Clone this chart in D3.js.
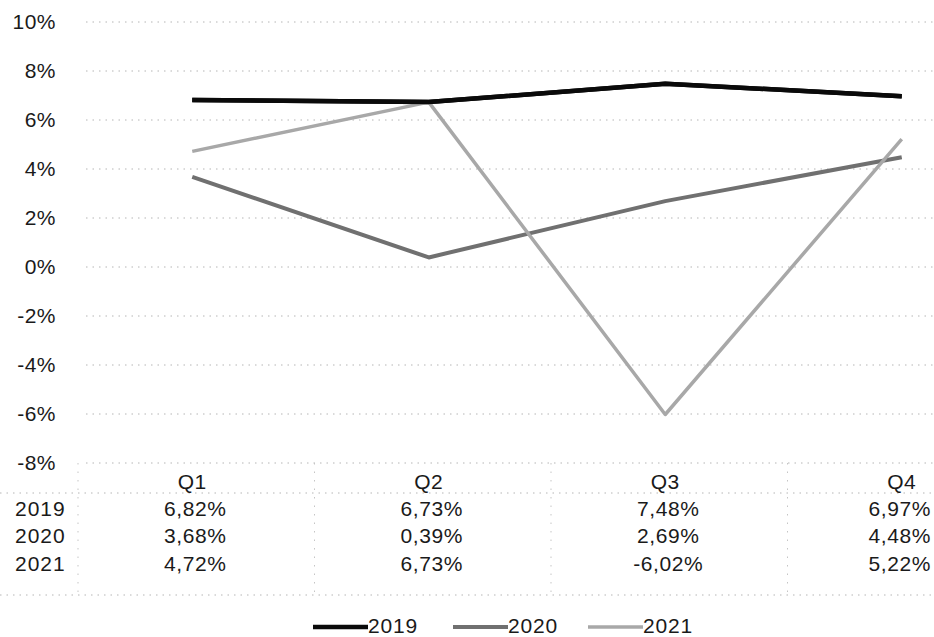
<!DOCTYPE html>
<html>
<head>
<meta charset="utf-8">
<script src="https://cdn.jsdelivr.net/npm/d3@7/dist/d3.min.js"></script>
<style>
  html, body { margin: 0; padding: 0; background: #fff; }
  svg { display: block; }
  text { font-family: "Liberation Sans", Arial, sans-serif; fill: #1a1a1a; }
</style>
</head>
<body>
<svg id="chart" width="934" height="637"></svg>
<script>
const categories = ["Q1", "Q2", "Q3", "Q4"];
const seriesNames = ["2019", "2020", "2021"];
const values2019 = [6.82, 6.73, 7.48, 6.97];
const values2020 = [3.68, 0.39, 2.69, 4.48];
const values2021 = [4.72, 6.73, -6.02, 5.22];
const yTicks = [10, 8, 6, 4, 2, 0, -2, -4, -6, -8];

const seriesValues = [values2019, values2020, values2021];
const seriesColors = ["#0a0a0a", "#707070", "#a8a8a8"];
const seriesWidths = [4.5, 4, 3.5];

const W = 934, H = 637;
const svg = d3.select("#chart");

const x = d3.scaleBand().domain(categories).range([74, 1020]);
const y = d3.scaleLinear().domain([-8, 10]).range([463, 22]);
const xc = c => x(c) + x.bandwidth() / 2;

const loc = d3.formatLocale({decimal: ",", thousands: ".", grouping: [3], currency: ["", ""], minus: "-"});
const fmtVal = v => loc.format(".2f")(v) + "%";
const fmtTick = v => loc.format("d")(v) + "%";

// gridlines
svg.append("g").selectAll("line").data(yTicks).join("line")
  .attr("x1", 86).attr("x2", W)
  .attr("y1", d => y(d)).attr("y2", d => y(d))
  .attr("stroke", "#b5b5b5").attr("stroke-width", 1)
  .attr("stroke-dasharray", "1.5,5");

// y axis labels
const yAxis = d3.axisLeft(y).tickValues(yTicks).tickFormat(fmtTick).tickSize(0).tickPadding(0);
const yg = svg.append("g").attr("transform", "translate(56,0)").call(yAxis);
yg.select(".domain").remove();
yg.selectAll("text").attr("font-size", 21).attr("font-family", "Liberation Sans, Arial, sans-serif")
  .attr("fill", "#1a1a1a").attr("letter-spacing", "0.5px");

// lines
const line = d3.line().x((d, i) => xc(categories[i])).y(d => y(d));
seriesValues.forEach((vals, s) => {
  svg.append("path").datum(vals)
    .attr("d", line)
    .attr("fill", "none")
    .attr("stroke", seriesColors[s])
    .attr("stroke-width", seriesWidths[s])
    .attr("stroke-linejoin", "round");
});
// redraw 2019 on top
svg.append("path").datum(values2019).attr("d", line).attr("fill", "none")
  .attr("stroke", seriesColors[0]).attr("stroke-width", seriesWidths[0]);

// data table
const tbl = svg.append("g");
const rowY = [509, 536, 564];
const hLines = [493, 595];
tbl.selectAll("line.h").data(hLines).join("line").attr("class", "h")
  .attr("x1", 0).attr("x2", W).attr("y1", d => d).attr("y2", d => d)
  .attr("stroke", "#b5b5b5").attr("stroke-dasharray", "1.5,5");
const vEdges = categories.map(c => x(c));
tbl.selectAll("line.v").data(vEdges).join("line").attr("class", "v")
  .attr("x1", d => d + 4).attr("x2", d => d + 4).attr("y1", 463).attr("y2", 595)
  .attr("stroke", "#c5c5c5").attr("stroke-dasharray", "1.5,7");

tbl.selectAll("text.cat").data(categories).join("text").attr("class", "cat")
  .attr("x", d => xc(d)).attr("y", 482).attr("dy", "0.35em")
  .attr("text-anchor", "middle").attr("font-size", 21).attr("letter-spacing", "0.5px")
  .text(d => d);

seriesNames.forEach((name, s) => {
  tbl.append("text").attr("x", 15).attr("y", rowY[s]).attr("dy", "0.35em")
    .attr("font-size", 21).attr("letter-spacing", "1px").text(name);
  tbl.selectAll("text.v" + s).data(seriesValues[s]).join("text").attr("class", "v" + s)
    .attr("x", (d, i) => xc(categories[i]) + 3).attr("y", rowY[s]).attr("dy", "0.35em")
    .attr("text-anchor", "middle").attr("font-size", 21).attr("letter-spacing", "0.6px")
    .text(d => fmtVal(d))
    .each(function () {
      const bb = this.getBBox();
      const over = bb.x + bb.width - (W - 3);
      if (over > 0) d3.select(this).attr("x", +d3.select(this).attr("x") - over);
    });
});

// legend
const legX = [313, 453, 588];
const leg = svg.append("g");
seriesNames.forEach((name, s) => {
  leg.append("line").attr("x1", legX[s]).attr("x2", legX[s] + 55)
    .attr("y1", 627).attr("y2", 627)
    .attr("stroke", seriesColors[s]).attr("stroke-width", seriesWidths[s]);
  leg.append("text").attr("x", legX[s] + 55).attr("y", 626).attr("dy", "0.35em")
    .attr("font-size", 21).attr("letter-spacing", "0.8px").text(name);
});
</script>
</body>
</html>
